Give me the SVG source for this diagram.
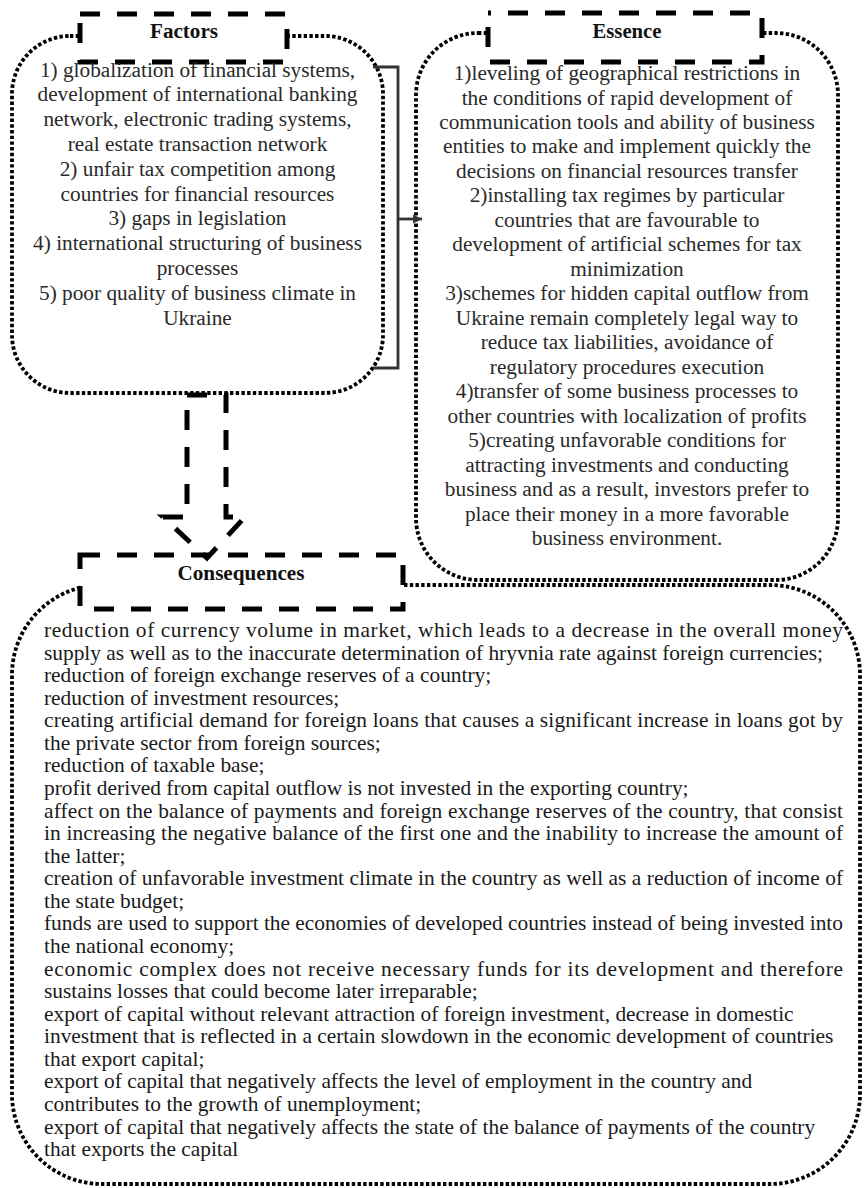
<svg xmlns="http://www.w3.org/2000/svg" width="866" height="1188" viewBox="0 0 866 1188">
<style>
.bg{fill:#ffffff}
.outline{fill:none;stroke:#000;stroke-width:3.8;stroke-dasharray:3.4 2.3}
.label{fill:#ffffff;stroke:#000;stroke-width:5;stroke-dasharray:20 17}
.lt{font-family:'Liberation Serif','DejaVu Serif','Noto Serif',Times,serif;font-size:20px;font-weight:bold;fill:#111;text-anchor:middle}
.ct{font-family:'Liberation Serif','DejaVu Serif','Noto Serif',Times,serif;font-size:21.3px;fill:#2a2a2a;text-anchor:middle}
.cq{font-family:'Liberation Serif','DejaVu Serif','Noto Serif',Times,serif;font-size:21.4px;fill:#1a1a1a}
.bracket{fill:none;stroke:#333;stroke-width:2.8}
.bigarrow{fill:none;stroke:#000;stroke-width:5;stroke-dasharray:20 17}
</style>
<defs>
<marker id="ah" viewBox="0 0 10 10" refX="10" refY="5" markerWidth="10" markerHeight="9" markerUnits="userSpaceOnUse" orient="auto">
<path d="M0,0 L10,5 L0,10 z" fill="#333"/>
</marker>
</defs>
<rect class="bg" x="0" y="0" width="866" height="1188"/>

<g id="factors">
<rect class="outline" x="12" y="36" width="371" height="357" rx="58" ry="58"/>
<rect class="label" x="80" y="14" width="207" height="48"/>
<text class="lt" x="184" y="38" textLength="68" lengthAdjust="spacingAndGlyphs">Factors</text>
<text class="ct" x="197.5" y="76.5">1) globalization of financial systems,</text>
<text class="ct" x="197.5" y="101.3">development of international banking</text>
<text class="ct" x="197.5" y="126.1">network, electronic trading systems,</text>
<text class="ct" x="197.5" y="150.9">real estate transaction network</text>
<text class="ct" x="197.5" y="175.7">2) unfair tax competition among</text>
<text class="ct" x="197.5" y="200.5">countries for financial resources</text>
<text class="ct" x="197.5" y="224.5">3) gaps in legislation</text>
<text class="ct" x="197.5" y="250.1">4) international structuring of business</text>
<text class="ct" x="197.5" y="274.9">processes</text>
<text class="ct" x="197.5" y="299.7">5) poor quality of business climate in</text>
<text class="ct" x="197.5" y="324.5">Ukraine</text>
</g>

<g id="essence">
<rect class="outline" x="416" y="33" width="422" height="547" rx="62" ry="62"/>
<rect class="label" x="488" y="13" width="274" height="49" stroke-dashoffset="17"/>
<text class="lt" x="627" y="38" textLength="69" lengthAdjust="spacingAndGlyphs">Essence</text>
<text class="ct" x="627" y="80">1)leveling of geographical restrictions in</text>
<text class="ct" x="627" y="104.5">the conditions of rapid development of</text>
<text class="ct" x="627" y="128.9">communication tools and ability of business</text>
<text class="ct" x="627" y="153.4">entities to make and implement quickly the</text>
<text class="ct" x="627" y="177.9">decisions on financial resources transfer</text>
<text class="ct" x="627" y="202.4">2)installing tax regimes by particular</text>
<text class="ct" x="627" y="226.8">countries that are favourable to</text>
<text class="ct" x="627" y="251.3">development of artificial schemes for tax</text>
<text class="ct" x="627" y="275.8">minimization</text>
<text class="ct" x="627" y="300.2">3)schemes for hidden capital outflow from</text>
<text class="ct" x="627" y="324.7">Ukraine remain completely legal way to</text>
<text class="ct" x="627" y="349.2">reduce tax liabilities, avoidance of</text>
<text class="ct" x="627" y="373.6">regulatory procedures execution</text>
<text class="ct" x="627" y="398.1">4)transfer of some business processes to</text>
<text class="ct" x="627" y="422.6">other countries with localization of profits</text>
<text class="ct" x="627" y="447.1">5)creating unfavorable conditions for</text>
<text class="ct" x="627" y="471.5">attracting investments and conducting</text>
<text class="ct" x="627" y="496">business and as a result, investors prefer to</text>
<text class="ct" x="627" y="520.5">place their money in a more favorable</text>
<text class="ct" x="627" y="544.9">business environment.</text>
</g>

<g id="consequences">
<rect class="outline" x="12" y="585" width="848" height="599" rx="90" ry="90"/>
<rect class="label" x="80" y="555" width="323" height="54"/>
<text class="lt" x="241" y="580" textLength="127" lengthAdjust="spacingAndGlyphs">Consequences</text>
<text class="cq" x="44" y="637" textLength="799" lengthAdjust="spacing">reduction of currency volume in market, which leads to a decrease in the overall money</text>
<text class="cq" x="44" y="659.6" textLength="779" lengthAdjust="spacing">supply as well as to the inaccurate determination of hryvnia rate against foreign currencies;</text>
<text class="cq" x="44" y="682.1">reduction of foreign exchange reserves of a country;</text>
<text class="cq" x="44" y="704.7">reduction of investment resources;</text>
<text class="cq" x="44" y="727.3" textLength="799" lengthAdjust="spacing">creating artificial demand for foreign loans that causes a significant increase in loans got by</text>
<text class="cq" x="44" y="749.9">the private sector from foreign sources;</text>
<text class="cq" x="44" y="772.4">reduction of taxable base;</text>
<text class="cq" x="44" y="795">profit derived from capital outflow is not invested in the exporting country;</text>
<text class="cq" x="44" y="817.6" textLength="799" lengthAdjust="spacing">affect on the balance of payments and foreign exchange reserves of the country, that consist</text>
<text class="cq" x="44" y="840.1" textLength="799" lengthAdjust="spacing">in increasing the negative balance of the first one and the inability to increase the amount of</text>
<text class="cq" x="44" y="862.7">the latter;</text>
<text class="cq" x="44" y="885.3" textLength="799" lengthAdjust="spacing">creation of unfavorable investment climate in the country as well as a reduction of income of</text>
<text class="cq" x="44" y="907.8">the state budget;</text>
<text class="cq" x="44" y="930.4" textLength="799" lengthAdjust="spacing">funds are used to support the economies of developed countries instead of being invested into</text>
<text class="cq" x="44" y="953">the national economy;</text>
<text class="cq" x="44" y="975.6" textLength="799" lengthAdjust="spacing">economic complex does not receive necessary funds for its development and therefore</text>
<text class="cq" x="44" y="998.1">sustains losses that could become later irreparable;</text>
<text class="cq" x="44" y="1020.7">export of capital without relevant attraction of foreign investment, decrease in domestic</text>
<text class="cq" x="44" y="1043.3">investment that is reflected in a certain slowdown in the economic development of countries</text>
<text class="cq" x="44" y="1065.8">that export capital;</text>
<text class="cq" x="44" y="1088.4">export of capital that negatively affects the level of employment in the country and</text>
<text class="cq" x="44" y="1111">contributes to the growth of unemployment;</text>
<text class="cq" x="44" y="1133.6">export of capital that negatively affects the state of the balance of payments of the country</text>
<text class="cq" x="44" y="1156.1">that exports the capital</text>
</g>

<g id="connectors">
<path class="bracket" d="M373,67 H398 V368 H373"/>
<path class="bracket" d="M398,219 H422" marker-end="url(#ah)"/>
<polygon class="bigarrow" points="187,395 226,395 226,517 245,517 207,558 163,517 187,517"/>
</g>
</svg>
